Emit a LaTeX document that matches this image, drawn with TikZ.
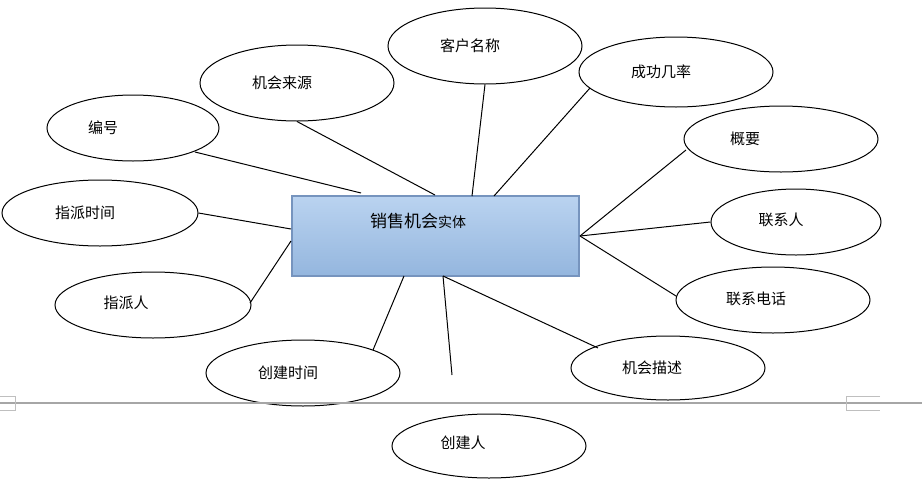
\documentclass[tikz,border=0pt]{standalone}
\usepackage{fontspec}
\setmainfont{Noto Sans CJK SC}
\usetikzlibrary{shapes.geometric}
\definecolor{boxtop}{RGB}{186,211,240}
\definecolor{boxbot}{RGB}{148,182,222}
\definecolor{boxline}{RGB}{118,148,190}
\begin{document}
\begin{tikzpicture}[x=1pt,y=-1pt,
  attr/.style={draw,ellipse,line width=1pt,inner sep=0pt},
  lbl/.style={font=\fontsize{15}{18}\selectfont},
  conn/.style={line width=1pt}]
\useasboundingbox (0,0) rectangle (922,488);
\node[attr,minimum width=194,minimum height=76] (khmc) at (485,46) {};
\node[attr,minimum width=194,minimum height=76] (jhly) at (297,83) {};
\node[attr,minimum width=194,minimum height=70] (cgjl) at (676,72) {};
\node[attr,minimum width=172,minimum height=66] (bh) at (133,128) {};
\node[attr,minimum width=194,minimum height=66] (gy) at (781,139) {};
\node[attr,minimum width=196,minimum height=66] (zpsj) at (100,213) {};
\node[attr,minimum width=170,minimum height=66] (lxr) at (796,222) {};
\node[attr,minimum width=196,minimum height=66] (zpr) at (153,305) {};
\node[attr,minimum width=194,minimum height=66] (lxdh) at (773,300) {};
\node[attr,minimum width=194,minimum height=66] (cjsj) at (303,373) {};
\node[attr,minimum width=194,minimum height=64] (jhms) at (668,368) {};
\node[attr,minimum width=194,minimum height=64] (cjr) at (489,446) {};
\node[lbl] (t1) at (470,46) {客户名称};
\node[lbl] (t2) at (282,83) {机会来源};
\node[lbl] (t3) at (661,72) {成功几率};
\node[lbl] (t4) at (103,128) {编号};
\node[lbl] (t5) at (745,139) {概要};
\node[lbl] (t6) at (85,213) {指派时间};
\node[lbl] (t7) at (781,220) {联系人};
\node[lbl] (t8) at (126,303) {指派人};
\node[lbl] (t9) at (756,299) {联系电话};
\node[lbl] (t10) at (288,373) {创建时间};
\node[lbl] (t11) at (652,368) {机会描述};
\node[lbl] (t12) at (463,443) {创建人};
\node[draw=boxline,line width=2pt,top color=boxtop,bottom color=boxbot,
  minimum width=287,minimum height=80,inner sep=0pt] (box) at (435.5,236) {};
\node (bt) at (418,221) {\fontsize{17}{20}\selectfont 销售机会\fontsize{14}{18}\selectfont 实体};
\coordinate (b1) at (361,193);
\coordinate (b2) at (435,195);
\coordinate (b3) at (472,196);
\coordinate (b4) at (494,196);
\coordinate (b5) at (291,229);
\coordinate (b6) at (291,241);
\coordinate (b7) at (580,236);
\coordinate (b8) at (443,276);
\coordinate (b9) at (404,276);
\coordinate (free) at (452,375);
\draw[conn] (b1) -- (195,152);
\draw[conn] (b2) -- (jhly.south);
\draw[conn] (b3) -- (khmc.south);
\draw[conn] (b4) -- (590,88);
\draw[conn] (b5) -- (zpsj.east);
\draw[conn] (b6) -- (250,303);
\draw[conn] (b7) -- (686,150);
\draw[conn] (b7) -- (lxr.west);
\draw[conn] (b7) -- (676,296);
\draw[conn] (b8) -- (598,348);
\draw[conn] (b9) -- (373,350);
\draw[conn] (b8) -- (free);
\draw[gray!70,line width=2pt] (0,403) -- (922,403);
\draw[gray!50,line width=0.6pt] (0,396) -- (15,396) -- (15,410) -- (0,410);
\draw[gray!50,line width=0.6pt] (880,396) -- (846,396) -- (846,410) -- (880,410);
\end{tikzpicture}
\end{document}
